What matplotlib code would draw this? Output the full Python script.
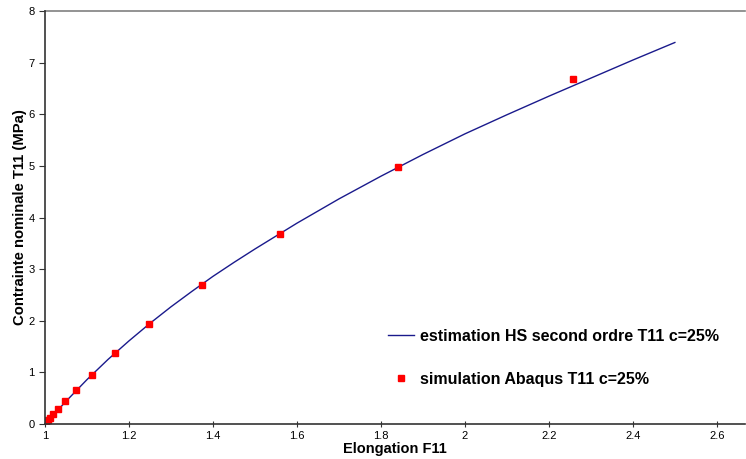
import matplotlib
matplotlib.use("Agg")
import matplotlib.pyplot as plt

# Estimated curve (HS second order)
curve_x = [1.0, 1.05, 1.1, 1.15, 1.2, 1.25, 1.3, 1.35, 1.4, 1.45, 1.5, 1.6, 1.7, 1.8, 1.9, 2.0, 2.1, 2.2, 2.3, 2.4, 2.5]
curve_y = [0.0, 0.44, 0.86, 1.25, 1.61, 1.95, 2.27, 2.57, 2.86, 3.13, 3.39, 3.89, 4.36, 4.80, 5.22, 5.62, 5.99, 6.35, 6.70, 7.05, 7.39]

# Abaqus simulation points
sim_x = [1.0, 1.003, 1.007, 1.012, 1.019, 1.031, 1.048, 1.074, 1.112, 1.167, 1.248, 1.374, 1.56, 1.84, 2.257]
sim_y = [0.0, 0.03, 0.07, 0.12, 0.19, 0.29, 0.45, 0.66, 0.95, 1.38, 1.94, 2.69, 3.68, 4.98, 6.69]

xticks = [1, 1.2, 1.4, 1.6, 1.8, 2, 2.2, 2.4, 2.6]
xticklabels = ["1", "1.2", "1.4", "1.6", "1.8", "2", "2.2", "2.4", "2.6"]
yticks = [0, 1, 2, 3, 4, 5, 6, 7, 8]

plt.rcParams['font.family'] = ['Liberation Sans', 'DejaVu Sans']

fig = plt.figure(figsize=(7.46, 4.59), dpi=100)
ax = fig.add_axes([45/746, 1 - 424/459, 700/746, 413/459])

ax.plot(curve_x, curve_y, color='#1a1a8c', lw=1.0, label='estimation HS second ordre T11 c=25%')
ax.plot(sim_x, sim_y, ls='none', marker='s', ms=5, color='#ff0000', mec='#ff0000',
        label='simulation Abaqus T11 c=25%')

ax.set_xlim(1, 2.667)
ax.set_ylim(0, 8)
ax.set_xticks(xticks)
ax.set_xticklabels(xticklabels)
ax.set_yticks(yticks)
ax.axhline(8, color='#808080', lw=1.2, clip_on=False)

for s in ['top', 'right']:
    ax.spines[s].set_visible(False)
for s in ['left', 'bottom']:
    ax.spines[s].set_color('#333333')
    ax.spines[s].set_linewidth(1.2)

ax.tick_params(axis='both', labelsize=8, colors='#333333', length=4, width=0.8, direction='out')
ax.tick_params(axis='x', direction='inout', pad=3)
for lab in ax.get_xticklabels() + ax.get_yticklabels():
    lab.set_color('black')

ax.set_xlabel('Elongation F11', fontsize=10.5, fontweight='bold', labelpad=1)
ax.set_ylabel('Contrainte nominale T11 (MPa)', fontsize=10.7, fontweight='bold')
ax.yaxis.set_label_coords(-0.025, 0.5)

leg = ax.legend(loc='lower left', bbox_to_anchor=(0.47, 0.055), frameon=False,
                prop={'size': 11.5, 'weight': 'bold'}, handlelength=1.6, labelspacing=1.75,
                handletextpad=0.35, markerscale=0.9)

fig.savefig('out.png', dpi=100)
